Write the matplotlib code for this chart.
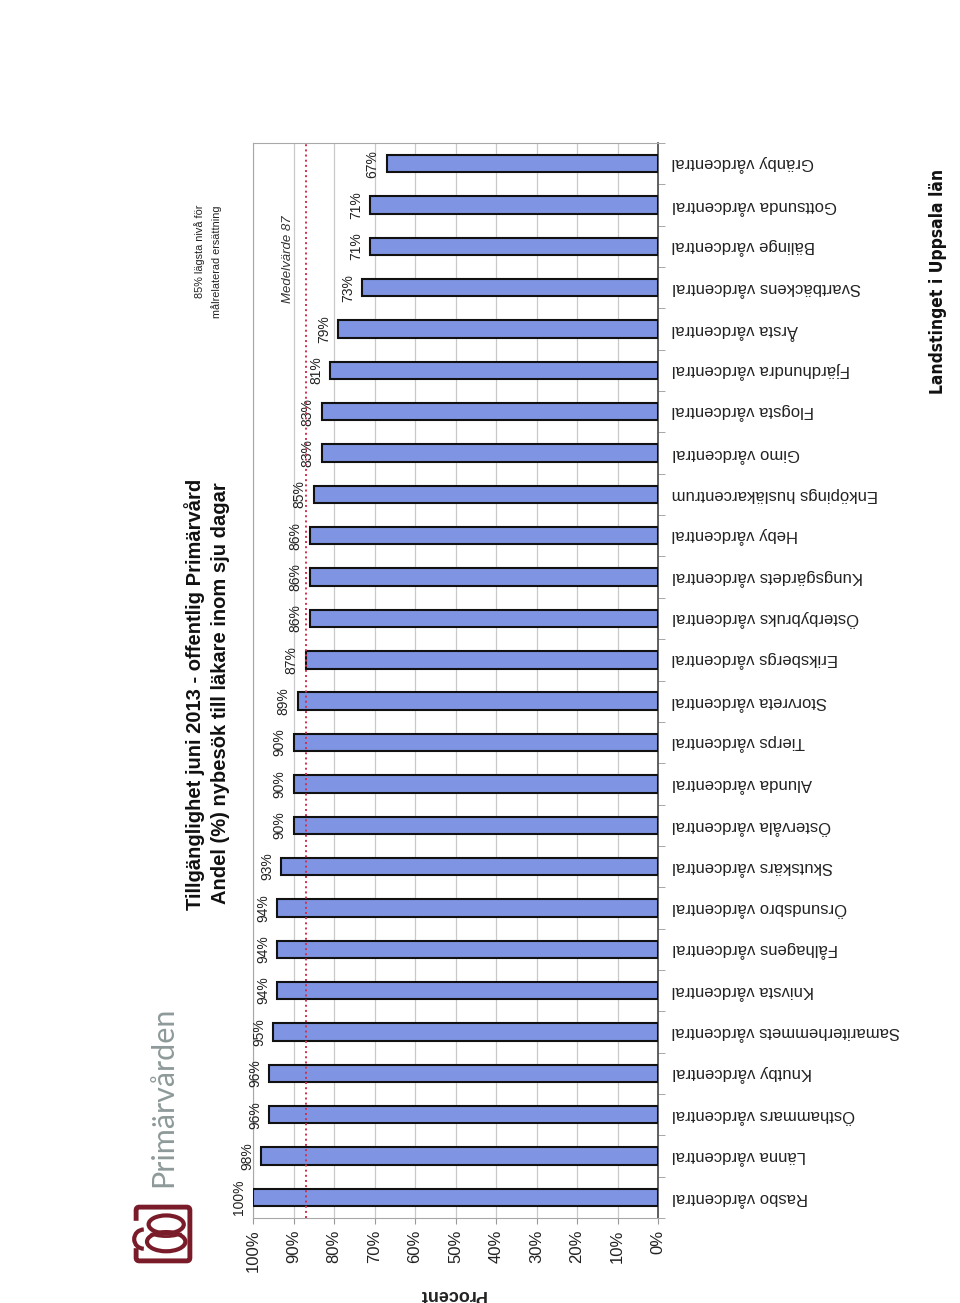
import numpy as np
import matplotlib
matplotlib.use("Agg")
import matplotlib.pyplot as plt
from matplotlib.patches import Rectangle, Ellipse, Arc, FancyBboxPatch

plt.rcParams['font.family'] = ['Liberation Sans', 'DejaVu Sans']

# data (bottom to top, as in the page)
centres = ['Rasbo vårdcentral', 'Länna vårdcentral', 'Östhammars vårdcentral',
           'Knutby vårdcentral', 'Samariterhemmets vårdcentral', 'Knivsta vårdcentral',
           'Fålhagens vårdcentral', 'Örsundsbro vårdcentral', 'Skutskärs vårdcentral',
           'Östervåla vårdcentral', 'Alunda vårdcentral', 'Tierps vårdcentral',
           'Storvreta vårdcentral', 'Eriksbergs vårdcentral', 'Österbybruks vårdcentral',
           'Kungsgärdets vårdcentral', 'Heby vårdcentral', 'Enköpings husläkarcentrum',
           'Gimo vårdcentral', 'Flogsta vårdcentral', 'Fjärdhundra vårdcentral',
           'Årsta vårdcentral', 'Svartbäckens vårdcentral', 'Bälinge vårdcentral',
           'Gottsunda vårdcentral', 'Gränby vårdcentral']
andel = [100, 98, 96, 96, 95, 94, 94, 94, 93, 90, 90, 90, 89, 87, 86, 86, 86, 85,
         83, 83, 81, 79, 73, 71, 71, 67]
medel = 87
ticks = list(range(0, 101, 10))
tick_labels = [f"{t}%" for t in ticks]

W, H = 960, 1303
fig = plt.figure(figsize=(W / 100, H / 100), dpi=100)
ax = fig.add_axes([253 / W, 85 / H, 405 / W, 1075 / H])

y = np.arange(len(centres))
ax.barh(y, andel, height=0.42, color='#7f94e2', edgecolor='#111111', linewidth=1.5, zorder=3)

for yi, v in zip(y, andel):
    ax.annotate(f"{v}%", (v, yi), xytext=(-7, 0), textcoords='offset pixels',
                rotation=90, ha='right', va='center', fontsize=10, color='#222222', zorder=4)

ax.axvline(medel, color='#d2304c', linestyle=':', linewidth=1.4, zorder=4)
ax.text(91.4, 22.7, 'Medelvärde 87', rotation=90, ha='center', va='center',
        fontsize=9.5, style='italic', color='#333333')

ax.set_xlim(100, 0)
ax.set_ylim(-0.5, len(centres) - 0.5)
ax.set_xticks(ticks)
ax.set_xticklabels(tick_labels, rotation=90, fontsize=12, color='#222222')
ax.tick_params(axis='x', length=4, color='#999999', pad=4.5)

ax.yaxis.set_ticks_position('right')
ax.set_yticks(y)
ax.set_yticklabels(centres, rotation=180, ha='left', va='center', fontsize=12, color='#222222')
ax.set_yticks(np.arange(-0.5, len(centres), 1), minor=True)
ax.tick_params(axis='y', which='major', length=0, pad=10)
ax.tick_params(axis='y', which='minor', length=5, color='#999999', direction='out')

ax.grid(axis='x', color='#c9c9c9', linewidth=0.9, zorder=0)
for s in ['top', 'left', 'bottom']:
    ax.spines[s].set_color('#a8a8a8')
ax.spines['right'].set_color('#444444')
ax.spines['right'].set_linewidth(1.2)

fig.text(452 / W, 1 - 1294 / H, 'Procent', rotation=180, ha='center', va='center',
         fontsize=13, fontweight='bold', color='#222222')

# titles
fig.text(195 / W, 1 - 694 / H, 'Tillgänglighet juni 2013 - offentlig Primärvård',
         rotation=90, ha='center', va='center', fontsize=14.5, fontweight='bold', color='#111111')
fig.text(220 / W, 1 - 693 / H, 'Andel (%) nybesök till läkare inom sju dagar',
         rotation=90, ha='center', va='center', fontsize=14.5, fontweight='bold', color='#111111')

fig.text(200 / W, 1 - 205 / H, '85% lägsta nivå för', rotation=90, ha='center', va='top',
         fontsize=7.8, color='#222222')
fig.text(217 / W, 1 - 205 / H, 'målrelaterad ersättning', rotation=90, ha='center', va='top',
         fontsize=7.8, color='#222222')

# logos
fig.text(938 / W, 1 - 281 / H, 'Landstinget i Uppsala län', rotation=90, ha='center', va='center',
         fontsize=12.5, fontweight='bold', fontstretch='condensed', family='DejaVu Sans',
         color='#111111')
fig.text(163 / W, 1 - 1097 / H, 'Primärvården', rotation=90, ha='center', va='center',
         fontsize=22, family=['Lato', 'DejaVu Sans'], color='#8e9a99')

red = '#7a1b2a'
lx = fig.add_axes([131 / W, 1 - 1266 / H, 64 / W, 64 / H])
lx.set_xlim(0, 1)
lx.set_ylim(0, 1)
lx.axis('off')
lx.add_patch(FancyBboxPatch((0.08, 0.08), 0.84, 0.84, boxstyle='round,pad=0,rounding_size=0.05',
                            fill=False, edgecolor=red, linewidth=3.5))
lx.add_patch(Rectangle((0.0, 0.3), 0.12, 0.4, color='white', zorder=2))
lx.add_patch(Arc((0.2, 0.42), 0.3, 0.3, theta1=90, theta2=270, edgecolor=red, linewidth=3, zorder=3))
lx.add_patch(Ellipse((0.55, 0.65), 0.55, 0.28, fill=False, edgecolor=red, linewidth=3, zorder=3))
lx.add_patch(Ellipse((0.55, 0.38), 0.6, 0.3, fill=False, edgecolor=red, linewidth=3, zorder=3))
lx.add_patch(Arc((0.55, 0.52), 0.45, 0.12, theta1=180, theta2=360, edgecolor=red, linewidth=2, zorder=3))

fig.savefig('out.png', dpi=100, facecolor='white')
